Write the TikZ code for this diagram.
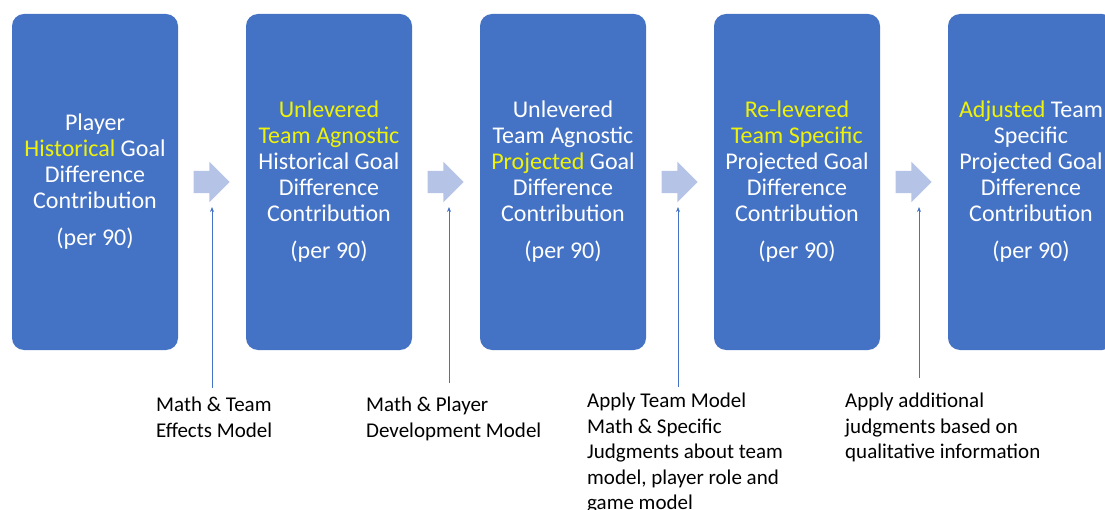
\documentclass[tikz,border=0pt]{standalone}
\usepackage{fontspec}
\setmainfont{Carlito}
\usetikzlibrary{shapes.arrows, arrows.meta}

\definecolor{boxblue}{HTML}{4472C4}
\definecolor{arrowblue}{HTML}{B4C3E6}
\definecolor{highlight}{HTML}{EEF20A}

\begin{document}
\begin{tikzpicture}[x = 1pt, y = -1pt,
	stage/.style = {fill = boxblue, rounded corners = 12pt, minimum width = 166pt, minimum height = 336pt, inner sep = 0pt, text = white, align = center, font = \fontsize{24}{26}\selectfont},
	push/.style = {single arrow, fill = arrowblue, inner xsep = 0pt, inner ysep = 11pt, minimum width = 40pt, minimum height = 36pt, single arrow head extend = 9pt},
	note/.style = {anchor = north west, inner sep = 0pt, align = left, font = \fontsize{21}{25.5}\selectfont},
	feed/.style = {boxblue, line width = 0.8pt, -{Stealth[length = 5pt, width = 4pt]}}]
	%	frame
	\useasboundingbox (0, 0) rectangle (1105, 510);
	\clip (0, 0) rectangle (1105, 510);
	
	\def\ymid{182}
	\def\hl#1{\textcolor{highlight}{#1}}
	
	%	stages
	\node[stage] (s1) at (95, \ymid) {Player\\ \hl{Historical} Goal\\ Difference\\ Contribution\\[11pt] (per 90)};
	\node[stage] (s2) at (329, \ymid) {\hl{Unlevered}\\ \hl{Team Agnostic}\\ Historical Goal\\ Difference\\ Contribution\\[11pt] (per 90)};
	\node[stage] (s3) at (563, \ymid) {Unlevered\\ Team Agnostic\\ \hl{Projected} Goal\\ Difference\\ Contribution\\[11pt] (per 90)};
	\node[stage] (s4) at (797, \ymid) {\hl{Re-levered}\\ \hl{Team Specific}\\ Projected Goal\\ Difference\\ Contribution\\[11pt] (per 90)};
	\node[stage] (s5) at (1031, \ymid) {\hl{Adjusted} Team\\ Specific\\ Projected Goal\\ Difference\\ Contribution\\[11pt] (per 90)};
	
	%	block arrows
	\node[push] (p1) at (206, \ymid) {};
	\node[push] (p2) at (440, \ymid) {};
	\node[push] (p3) at (674, \ymid) {};
	\node[push] (p4) at (908, \ymid) {};
	
	%	notes
	\node[note] (n1) at (156, 397) {Math \& Team\\ Effects Model};
	\node[note] (n2) at (366, 397) {Math \& Player\\ Development Model};
	\node[note] (n3) at (587, 393) {Apply Team Model\\ Math \& Specific\\ Judgments about team\\ model, player role and\\ game model};
	\node[note] (n4) at (845, 393) {Apply additional\\ judgments based on\\ qualitative information};
	
	%	thin arrows
	\coordinate (f1) at (212, 388);	\coordinate (t1) at (212, 207);
	\coordinate (f2) at (449, 383);	\coordinate (t2) at (449, 207);
	\coordinate (f3) at (678, 387);	\coordinate (t3) at (678, 207);
	\coordinate (f4) at (919, 378);	\coordinate (t4) at (919, 207);
	\draw[feed] (f1) -- (t1);
	\draw[feed] (f2) -- (t2);
	\draw[feed] (f3) -- (t3);
	\draw[feed] (f4) -- (t4);
\end{tikzpicture}
\end{document}
